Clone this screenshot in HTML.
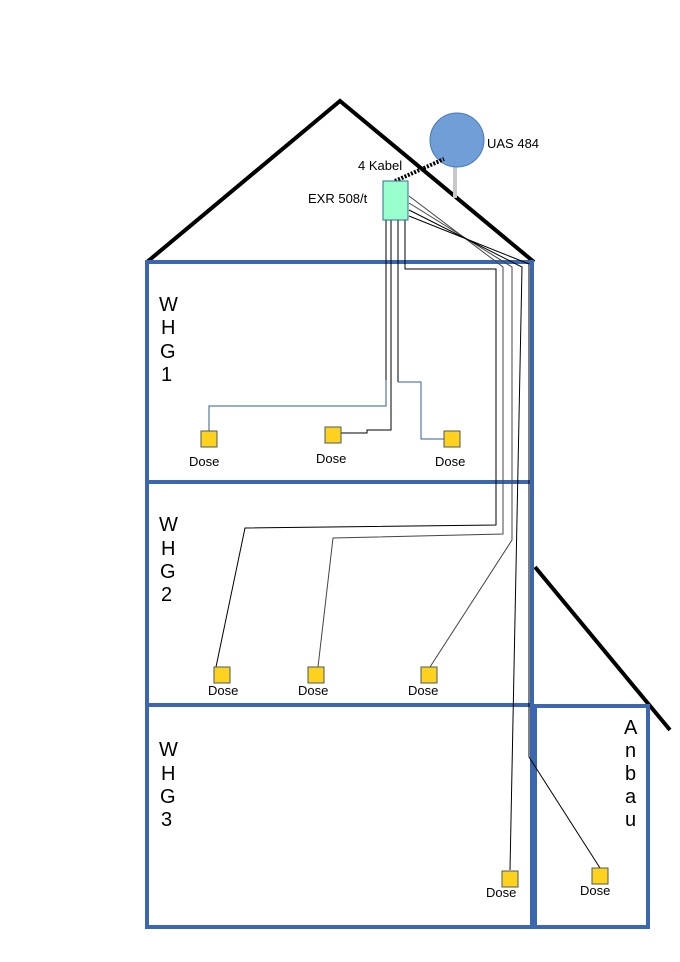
<!DOCTYPE html>
<html><head><meta charset="utf-8"><style>
html,body{margin:0;padding:0;background:#fff}
svg{display:block}
text{font-family:"Liberation Sans",sans-serif;fill:#000}
</style></head><body>
<svg width="680" height="962" viewBox="0 0 680 962" xmlns="http://www.w3.org/2000/svg">
<rect width="680" height="962" fill="#fff"/>
<polyline points="147,262 340,101 534,262" fill="none" stroke="#000" stroke-width="4"/>
<line x1="535" y1="567" x2="670" y2="730" stroke="#000" stroke-width="4"/>
<g fill="none" stroke="#3a67b0" stroke-width="4">
<rect x="147" y="262" width="385" height="220"/>
<rect x="147" y="482" width="385" height="223"/>
<rect x="147" y="705" width="385" height="222"/>
<rect x="535" y="706" width="113" height="221"/>
<line x1="532" y1="262" x2="532" y2="706"/>
</g>
<line x1="455" y1="160" x2="455" y2="198" stroke="#c8c8c8" stroke-width="4"/>
<circle cx="457" cy="140" r="27" fill="#6f9fd6" stroke="#4a7ab8" stroke-width="1"/>
<line x1="395" y1="181" x2="444" y2="159" stroke="#000" stroke-width="4" stroke-dasharray="2,1.5"/>
<text x="487" y="148" font-size="13">UAS 484</text>
<text x="358" y="170" font-size="13">4 Kabel</text>
<text x="308" y="203" font-size="13">EXR 508/t</text>
<g fill="none" stroke="#000" stroke-width="1">
<polyline points="386,220 386,380"/>
<polyline points="391,220 391,430 367,430 367,433 341,433"/>
<polyline points="398,220 398,382"/>
<polyline points="405,220 405,269 496,269 496,525 245,528 216,667"/>
<polyline points="409,196 503,267 503,534 333,538 318,667" stroke="#444"/>
<polyline points="409,203 512,267 512,540 430,667" stroke="#444"/>
<polyline points="409,210 522,267 510,870"/>
<polyline points="409,216 529,264 529,757 600,868"/>
</g>
<g fill="none" stroke="#2f5f8f" stroke-width="1">
<polyline points="386,380 386,406 209,406 209,432"/>
<polyline points="398,382 421,382 421,439 444,439"/>
</g>
<rect x="383" y="181" width="25" height="39" fill="#99ffcc" stroke="#2f6f8f" stroke-width="1"/>
<g fill="#ffd21f" stroke="#4a5a5a" stroke-width="1">
<rect x="201" y="431" width="16" height="16"/>
<rect x="325" y="427" width="16" height="16"/>
<rect x="444" y="431" width="16" height="16"/>
<rect x="214" y="667" width="16" height="16"/>
<rect x="308" y="667" width="16" height="16"/>
<rect x="421" y="667" width="16" height="16"/>
<rect x="502" y="871" width="16" height="16"/>
<rect x="592" y="868" width="16" height="16"/>
</g>
<g font-size="13">
<text x="189" y="466">Dose</text>
<text x="316" y="463">Dose</text>
<text x="435" y="466">Dose</text>
<text x="208" y="695">Dose</text>
<text x="298" y="695">Dose</text>
<text x="408" y="695">Dose</text>
<text x="486" y="897">Dose</text>
<text x="580" y="895">Dose</text>
</g>
<g font-size="20">
<text x="159" y="311">W</text><text x="161" y="334">H</text><text x="160" y="358">G</text><text x="161" y="381">1</text>
<text x="159" y="531">W</text><text x="161" y="555">H</text><text x="160" y="578">G</text><text x="161" y="601">2</text>
<text x="159" y="756">W</text><text x="161" y="780">H</text><text x="160" y="803">G</text><text x="161" y="826">3</text>
<text x="624" y="734">A</text><text x="625" y="757">n</text><text x="625" y="780">b</text><text x="625" y="803">a</text><text x="625" y="826">u</text>
</g>
</svg>
</body></html>
